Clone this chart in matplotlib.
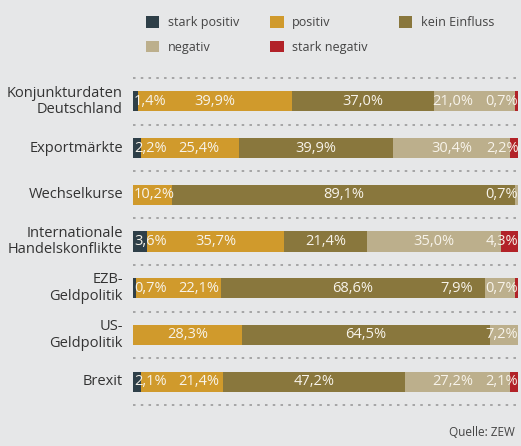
import matplotlib
matplotlib.use("Agg")
import matplotlib.pyplot as plt
from matplotlib.patches import Patch

# ---------------- data ----------------
categories = ["Konjunkturdaten\nDeutschland", "Exportmärkte", "Wechselkurse",
              "Internationale\nHandelskonflikte", "EZB-\nGeldpolitik",
              "US-\nGeldpolitik", "Brexit"]
series_names = ["stark positiv", "positiv", "kein Einfluss", "negativ", "stark negativ"]
stark_positiv = [1.4, 2.2, 0.0, 3.6, 0.7, 0.0, 2.1]
positiv       = [39.9, 25.4, 10.2, 35.7, 22.1, 28.3, 21.4]
kein_einfluss = [37.0, 39.9, 89.1, 21.4, 68.6, 64.5, 47.2]
negativ       = [21.0, 30.4, 0.7, 35.0, 7.9, 7.2, 27.2]
stark_negativ = [0.7, 2.2, 0.0, 4.3, 0.7, 0.0, 2.1]
source = "Quelle: ZEW"

series = [stark_positiv, positiv, kein_einfluss, negativ, stark_negativ]
colors = ["#2E3F48", "#D09A2C", "#89773D", "#BCAF8C", "#B22228"]

BG = "#E6E7E8"
FONT = ["Open Sans", "DejaVu Sans"]
plt.rcParams["font.family"] = FONT

W, H = 521, 446
fig = plt.figure(figsize=(W / 100, H / 100), dpi=100, facecolor=BG)
left_px, right_px, top_px, bot_px = 133, 518, 78, 405
ax = fig.add_axes([left_px / W, 1 - bot_px / H, (right_px - left_px) / W, (bot_px - top_px) / H])
ax.set_facecolor(BG)
ax.set_xlim(0, 100)
ax.set_ylim(len(categories) - 0.5, -0.5)
ax.axis("off")

# dotted separators
for i in range(len(categories) + 1):
    ax.axhline(i - 0.5, color="#A0A0A0", lw=1.3, linestyle=(0, (1.4, 2.9)), clip_on=False, zorder=1)

# stacked bars
ypos = list(range(len(categories)))
lefts = [0.0] * len(categories)
for name, vals, col in zip(series_names, series, colors):
    ax.barh(ypos, vals, left=lefts, height=0.43, color=col, edgecolor="none", zorder=2, label=name)
    lefts = [a + b for a, b in zip(lefts, vals)]

# category labels
for y, cat in zip(ypos, categories):
    ax.text(-2.6, y, cat, ha="right", va="center", fontsize=10.5, color="#333333",
            linespacing=1.15)

# value labels with simple collision handling
fig.canvas.draw()
renderer = fig.canvas.get_renderer()
px_per_unit = (right_px - left_px) / 100.0
gap = 12 / px_per_unit
pad = 1 / px_per_unit
for r, y in enumerate(ypos):
    start = 0.0
    items = []
    for vals in series:
        v = vals[r]
        if v > 0:
            txt = f"{v:.1f}%".replace(".", ",")
            t = ax.text(start + v / 2, y, txt, ha="center", va="center", fontsize=10.5,
                        color="#F7F3EA", zorder=3)
            wpx = t.get_window_extent(renderer).width
            items.append([t, start + v / 2, wpx / px_per_unit])
        start += v
    # clamp
    for it in items:
        t, c, w = it
        c = max(c, pad + w / 2)
        c = min(c, start - w / 2)
        it[1] = c
    # forward pass
    for i in range(1, len(items)):
        prev_r = items[i - 1][1] + items[i - 1][2] / 2
        if items[i][1] - items[i][2] / 2 < prev_r + gap and i < len(items) - 1:
            items[i][1] = prev_r + gap + items[i][2] / 2
    # backward pass
    for i in range(len(items) - 2, -1, -1):
        nxt_l = items[i + 1][1] - items[i + 1][2] / 2
        if items[i][1] + items[i][2] / 2 > nxt_l - gap and i > 0:
            items[i][1] = nxt_l - gap - items[i][2] / 2
    for t, c, w in items:
        t.set_x(c)

# legend (column-major order so rows read left to right)
order = [0, 3, 1, 4, 2]
handles = [Patch(facecolor=colors[i], edgecolor="none", label=series_names[i]) for i in order]
fs = 9
fig.legend(handles=handles, loc="upper left", bbox_to_anchor=(146 / W, 1 - 16 / H),
           ncol=3, frameon=False, fontsize=fs, handlelength=1.05, handleheight=1.05,
           handletextpad=0.7, columnspacing=2.5, labelspacing=0.92, borderpad=0,
           borderaxespad=0, labelcolor="#444444")

fig.text(515 / W, 1 - 433 / H, source, ha="right", va="center", fontsize=8.5, color="#444444")

fig.savefig("out.png", dpi=100, facecolor=BG)
